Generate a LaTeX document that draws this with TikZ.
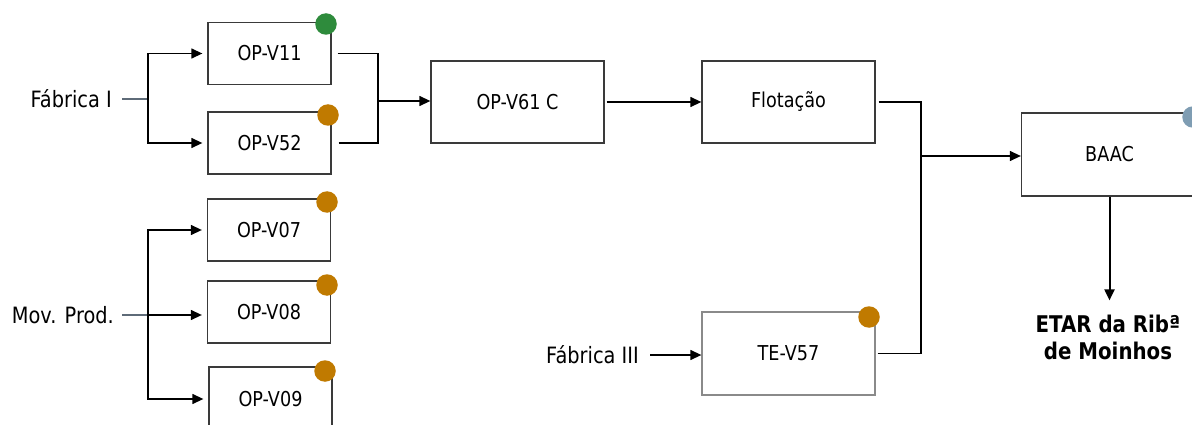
\documentclass[tikz,border=0pt]{standalone}
\usepackage{fontspec}
\setmainfont{DejaVu Sans}[FakeStretch=0.86]
\usetikzlibrary{arrows.meta}
\definecolor{boxline}{HTML}{3A3A3A}
\definecolor{lightline}{HTML}{8A8A8A}
\definecolor{inline}{HTML}{5E6B78}
\definecolor{dotgreen}{HTML}{2E8B3C}
\definecolor{dotorange}{HTML}{C07A00}
\definecolor{dotblue}{HTML}{7F9DB3}
\tikzset{
  unitbox/.style={draw=boxline, line width=1.3pt, minimum width=123pt, minimum height=62pt, inner sep=0pt, font=\fontsize{20.5}{24}\selectfont},
  bigbox/.style={unitbox, minimum width=173pt, minimum height=82pt},
  lbl/.style={inner sep=0pt, font=\fontsize{22.5}{26}\selectfont},
  conn/.style={line width=1.3pt, draw=black},
  tip/.style={-{Triangle[length=11pt,width=10pt]}},
  arr/.style={conn, tip, shorten >=5pt},
  dot/.style={circle, inner sep=0pt, minimum size=21.5pt},
}
\begin{document}
\begin{tikzpicture}[x=1pt,y=-1pt]
\useasboundingbox (0,0) rectangle (1192,425);
% boxes
\node[unitbox] (v11) at (269.5,53.5) {OP-V11};
\node[unitbox] (v52) at (269.5,143) {OP-V52};
\node[unitbox] (v07) at (269,230) {OP-V07};
\node[unitbox] (v08) at (269,312) {OP-V08};
\node[unitbox, minimum height=64pt] (v09) at (270.5,399) {OP-V09};
\node[bigbox] (v61) at (517.5,102) {OP-V61 C};
\node[bigbox] (flo) at (788.5,102) {Flotação};
\node[bigbox, draw=lightline, minimum height=83pt] (te) at (788.5,353.5) {TE-V57};
\node[bigbox, minimum height=83pt, minimum width=176pt] (baac) at (1109.5,154.5) {BAAC};
% dots
\node[dot, fill=dotgreen] (d11) at (326,24) {};
\node[dot, fill=dotorange] (d52) at (328,115) {};
\node[dot, fill=dotorange] (d07) at (327,202) {};
\node[dot, fill=dotorange] (d08) at (327,285) {};
\node[dot, fill=dotorange] (d09) at (325,371) {};
\node[dot, fill=dotorange] (dte) at (869,317) {};
\node[dot, fill=dotblue] (dba) at (1193,117) {};
% labels
\node[lbl, anchor=east] (fi) at (112,99) {Fábrica I};
\node[lbl, anchor=east] (mp) at (114,315) {Mov. Prod.};
\node[lbl, anchor=east] (f3) at (639,355) {Fábrica III};
\node[inner sep=0pt, align=center, font=\bfseries\fontsize{23}{27}\selectfont] (etar) at (1108,337) {ETAR da Ribª\\de Moinhos};
% junctions
\coordinate (j1) at (148,99);
\coordinate (j2) at (378,101);
\coordinate (j3) at (148,315);
\coordinate (j4) at (921,156);
% connectors
\draw[conn, draw=inline, shorten <=10pt] (fi.east) -- (j1);
\draw[arr] (j1) |- (v11.west);
\draw[arr] (j1) |- (v52.west);
\draw[conn, shorten <=6pt] (v11.east) -| (j2);
\draw[conn, shorten <=7pt] (v52.east) -| (j2);
\draw[arr, shorten >=0pt] (j2) -- (j2 -| v61.west);
\draw[arr, shorten <=2pt, shorten >=0pt] (v61.east) -- (flo.west);
\draw[conn, draw=inline, shorten <=8pt] (mp.east) -- (j3);
\draw[arr] (j3) -- (j3 -| v08.west);
\draw[arr] (j3) |- (v07.west);
\draw[arr] (j3) |- (v09.west);
\draw[conn, shorten <=3pt] (flo.east) -| (j4);
\draw[conn, shorten <=2pt] (te.east) -| (j4);
\draw[arr, shorten >=0pt] (j4) -- (j4 -| baac.west);
\draw[arr, shorten >=0pt, shorten <=11pt] (f3.east) -- (f3.east -| te.west);
\draw[conn, line width=2pt, tip, shorten >=14pt] (baac.south) -- (baac.south |- etar.north);
\end{tikzpicture}
\end{document}
